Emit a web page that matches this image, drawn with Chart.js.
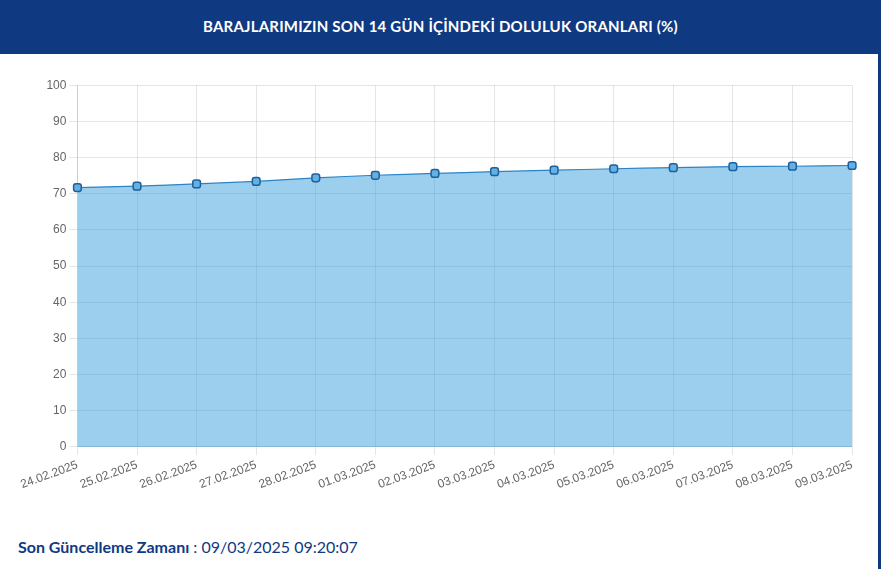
<!DOCTYPE html>
<html>
<head>
<meta charset="utf-8">
<script src="https://cdn.jsdelivr.net/npm/chart.js@4/dist/chart.umd.min.js"></script>
<style>
  html, body { margin: 0; padding: 0; background: #fff; }
  body { width: 881px; height: 569px; position: relative; overflow: hidden; font-family: Lato, "Open Sans", sans-serif; }
  .header {
    position: absolute; left: 0; top: 0; width: 881px; height: 54px;
    background: #0f3a82; color: #fff; text-align: center;
    font-weight: 700; font-size: 15px; line-height: 52px; letter-spacing: 0.2px;
  }
  .edge { position: absolute; right: 0; top: 54px; width: 3px; height: 515px; background: #0f3a82; }
  .chartBox { position: absolute; left: 18px; top: 75px; width: 842px; height: 420px; }
  .footer { position: absolute; left: 18px; top: 537px; font-size: 16px; color: #0f3a82; }
  .footer b { font-weight: 700; }
</style>
</head>
<body>
<div class="header">BARAJLARIMIZIN SON 14 GÜN İÇİNDEKİ DOLULUK ORANLARI (%)</div>
<div class="edge"></div>
<div class="chartBox"><canvas id="barajChart"></canvas></div>
<div class="footer"><b>Son Güncelleme Zamanı</b> : 09/03/2025 09:20:07</div>
<script>
let dates = [
  "24.02.2025", "25.02.2025", "26.02.2025", "27.02.2025", "28.02.2025",
  "01.03.2025", "02.03.2025", "03.03.2025", "04.03.2025", "05.03.2025",
  "06.03.2025", "07.03.2025", "08.03.2025", "09.03.2025"
];

let doluluk = [71.7, 72.1, 72.7, 73.4, 74.4, 75.1, 75.6, 76.1, 76.5, 76.9, 77.2, 77.5, 77.6, 77.8];

let yTicks = [0, 10, 20, 30, 40, 50, 60, 70, 80, 90, 100];

const barajChart = new Chart(document.getElementById("barajChart"), {
  type: "line",
  data: {
    labels: dates,
    datasets: [
      {
        label: "Doluluk %",
        data: doluluk,
        borderColor: "#2b84c6",
        borderWidth: 1.2,
        backgroundColor: "rgba(58,160,222,0.5)",
        fill: true,
        tension: 0.1,
        pointStyle: "rectRounded",
        pointRadius: 4.5,
        pointBorderWidth: 1.5,
        pointBorderColor: "#1f5f9e",
        pointBackgroundColor: "#62b1e3"
      }
    ]
  },
  options: {
    responsive: true,
    maintainAspectRatio: false,
    animation: false,
    layout: { padding: { left: 0, right: 0, top: 8, bottom: 0 } },
    plugins: { legend: { display: false }, tooltip: { enabled: false } },
    scales: {
      x: {
        grid: { color: "rgba(0,0,0,0.1)", tickLength: 8 },
        border: { color: "rgba(0,0,0,0.1)" },
        ticks: {
          color: "#666",
          font: { family: "'Liberation Sans', Arial", size: 12 },
          minRotation: 20,
          maxRotation: 20,
          autoSkip: false
        }
      },
      y: {
        min: 0,
        max: 100,
        afterBuildTicks: (axis) => { axis.ticks = yTicks.map(v => ({ value: v })); },
        grid: { color: "rgba(0,0,0,0.1)", tickLength: 8 },
        border: { color: "rgba(0,0,0,0.1)" },
        ticks: {
          color: "#666",
          font: { family: "'Liberation Sans', Arial", size: 12 }
        }
      }
    }
  }
});
</script>
</body>
</html>
